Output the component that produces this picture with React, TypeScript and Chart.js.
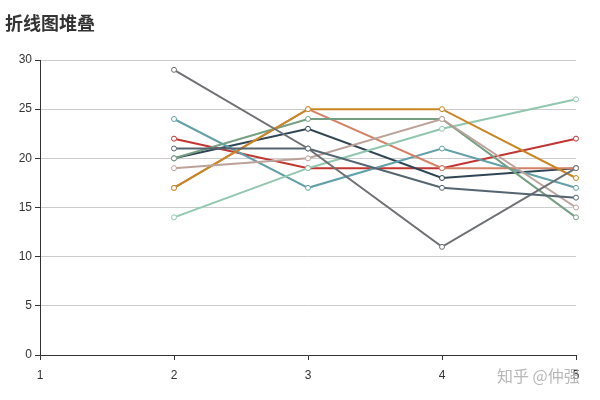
import React, { useEffect, useRef } from "react";
import { Chart, registerables } from "chart.js";

Chart.register(...registerables);

const categories = ["1", "2", "3", "4", "5"];
const seriesNames = ["s1", "s2", "s3", "s4", "s5", "s6", "s7", "s8", "s9", "s10"];
const seriesColors = ["#c23531", "#2f4554", "#61a0a8", "#d48265", "#91c7ae", "#749f83", "#ca8622", "#bda29a", "#6e7074", "#546570"];
const s1 = [null, 22, 19, 19, 22];
const s2 = [null, 20, 23, 18, 19];
const s3 = [null, 24, 17, 21, 17];
const s4 = [null, 17, 25, 19, 19];
const s5 = [null, 14, 19, 23, 26];
const s6 = [null, 20, 24, 24, 14];
const s7 = [null, 17, 25, 25, 18];
const s8 = [null, 19, 20, 24, 15];
const s9 = [null, 29, 21, 11, 19];
const s10 = [null, 21, 21, 17, 16];
const seriesValues = [s1, s2, s3, s4, s5, s6, s7, s8, s9, s10];
const yTicks = [0, 5, 10, 15, 20, 25, 30];

export default function App() {
  const ref = useRef<HTMLCanvasElement | null>(null);
  useEffect(() => {
    if (!ref.current) return;
    const chart = new Chart(ref.current, {
      type: "line",
      data: {
        labels: categories,
        datasets: seriesValues.map((v, i) => ({
          label: seriesNames[i],
          data: v,
          order: -i,
          borderColor: seriesColors[i],
          backgroundColor: "#fff",
          pointBackgroundColor: "#fff",
          pointBorderColor: seriesColors[i],
          pointRadius: 2.5,
          pointBorderWidth: 1,
          borderWidth: 2,
          tension: 0,
          fill: false,
        })),
      },
      options: {
        animation: false,
        responsive: true,
        maintainAspectRatio: false,
        layout: { padding: { left: 0, right: 24, top: 60, bottom: 0 } },
        plugins: { legend: { display: false }, title: { display: false }, tooltip: { enabled: false } },
        scales: {
          x: {
            type: "category",
            offset: false,
            afterFit: (s: any) => { s.height = 45; },
            grid: { drawOnChartArea: false, drawTicks: true, tickLength: 5, tickColor: "#333", color: "#333" },
            border: { color: "#333", width: 1 },
            ticks: { color: "#333", font: { size: 12, family: "Liberation Sans, Arial, sans-serif" }, padding: 8, maxRotation: 0, autoSkip: false },
          },
          y: {
            min: 0,
            max: 30,
            afterFit: (s: any) => { s.width = 40; },
            afterBuildTicks: (s: any) => { s.ticks = yTicks.map((v) => ({ value: v })); },
            grid: { color: "#ccc", drawTicks: true, tickLength: 5, tickColor: "#333" },
            border: { color: "#333", width: 1 },
            ticks: { color: "#333", font: { size: 12, family: "Liberation Sans, Arial, sans-serif" }, padding: 3 },
          },
        },
      },
    });
    return () => chart.destroy();
  }, []);
  return (
    <div style={{ position: "absolute", left: 0, top: 0, width: 600, height: 400, background: "#fff" }}>
      <canvas ref={ref} />
      <div style={{ position: "absolute", left: 5, top: 10, fontFamily: "'Noto Sans CJK SC', sans-serif", fontWeight: "bold", fontSize: 18, lineHeight: "24px", color: "#333" }}>折线图堆叠</div>
      <div style={{ position: "absolute", left: 497, top: 364, fontFamily: "'Noto Sans CJK SC', sans-serif", fontSize: 16, lineHeight: "22px", color: "rgba(170,170,170,0.85)" }}>知乎 @仲强</div>
    </div>
  );
}
